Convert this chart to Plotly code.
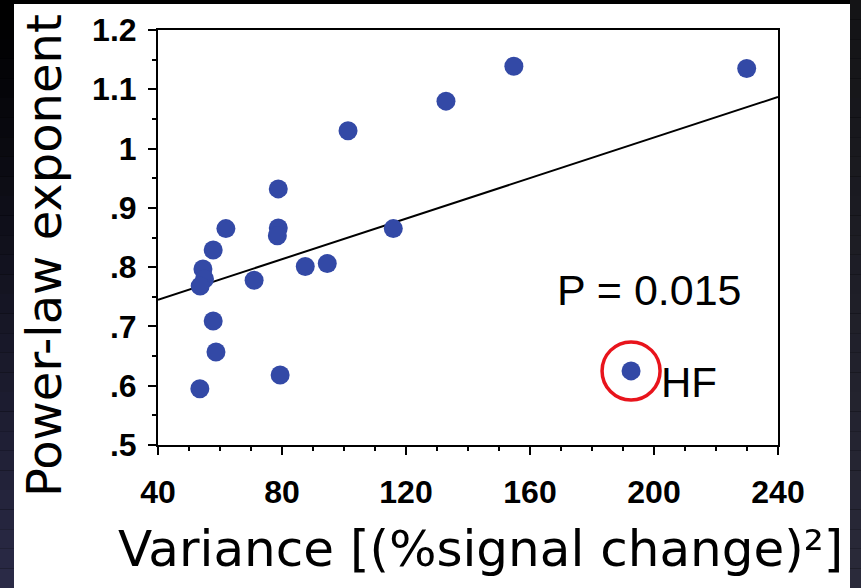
import plotly.graph_objects as go

# ---- data ----
variance = [154.8, 229.9, 132.9, 101.3, 78.8, 78.8, 78.5, 61.9, 57.8,
            54.5, 55.0, 53.6, 71.0, 87.5, 94.6, 115.9, 57.8, 58.7, 79.4, 53.5]
exponent = [1.139, 1.135, 1.080, 1.030, 0.932, 0.866, 0.853, 0.865, 0.829,
            0.797, 0.780, 0.768, 0.778, 0.801, 0.806, 0.865, 0.709, 0.657, 0.618, 0.595]
hf_x = [192.6]
hf_y = [0.625]
fit_x = [40, 240]
fit_y = [0.745, 1.087]
x_ticks = [40, 80, 120, 160, 200, 240]
y_ticks = [0.5, 0.6, 0.7, 0.8, 0.9, 1.0, 1.1, 1.2]
y_ticktext = [".5", ".6", ".7", ".8", ".9", "1", "1.1", "1.2"]
p_text = "P = 0.015"
hf_label = "HF"

# ---- geometry helpers (pixel -> paper) ----
W, H = 861, 588
L, R, T, B = 158, 778, 30, 445


def px(x):
    return (x - L) / (R - L)


def py(y):
    return (B - y) / (B - T)


fig = go.Figure()

fig.add_trace(go.Scatter(x=fit_x, y=fit_y, mode="lines",
                         line=dict(color="black", width=2), hoverinfo="skip"))
fig.add_trace(go.Scatter(x=variance + hf_x, y=exponent + hf_y, mode="markers",
                         marker=dict(color="#3349a6", size=19, line=dict(width=0))))
fig.add_trace(go.Scatter(x=hf_x, y=hf_y, mode="markers",
                         marker=dict(symbol="circle-open", size=58, color="#e8141c",
                                     line=dict(width=3.5, color="#e8141c"))))

# background: dark frame with gradient strips + white card
shapes = []
n = 30
for i in range(n):
    f = i / (n - 1)
    y0 = i * H / n
    y1 = (i + 1) * H / n
    cl = (int(0 + 42 * f), int(0 + 42 * f), int(0 + 70 * f))
    cr = (int(20 + 22 * f), int(20 + 22 * f), int(22 + 36 * f))
    shapes.append(dict(type="rect", xref="paper", yref="paper", layer="below",
                       x0=px(0), x1=px(14), y0=py(y1), y1=py(y0),
                       fillcolor="rgb(%d,%d,%d)" % cl, line=dict(width=0)))
    shapes.append(dict(type="rect", xref="paper", yref="paper", layer="below",
                       x0=px(850), x1=px(W), y0=py(y1), y1=py(y0),
                       fillcolor="rgb(%d,%d,%d)" % cr, line=dict(width=0)))
shapes.append(dict(type="rect", xref="paper", yref="paper", layer="below",
                   x0=px(14), x1=px(850), y0=py(H), y1=py(4),
                   fillcolor="white", line=dict(width=0)))

annotations = [
    dict(text=p_text, x=168.0, y=0.762, xref="x", yref="y", xanchor="left",
         yanchor="middle", showarrow=False,
         font=dict(family="Liberation Sans", size=43, color="black")),
    dict(text=hf_label, x=201.6, y=0.605, xref="x", yref="y", xanchor="left",
         yanchor="middle", showarrow=False,
         font=dict(family="Liberation Sans", size=42, color="black")),
    dict(text="Variance [(%signal change)²]", x=px(480), y=py(549), xref="paper",
         yref="paper", xanchor="center", yanchor="middle", showarrow=False,
         font=dict(family="DejaVu Sans", size=50, color="black")),
    dict(text="Power-law exponent", x=px(44), y=py(256), xref="paper",
         yref="paper", xanchor="center", yanchor="middle", showarrow=False,
         textangle=-90,
         font=dict(family="DejaVu Sans", size=48, color="black")),
]

tickfont = dict(family="Liberation Sans", size=32, color="black", weight="bold")

fig.update_layout(
    width=W, height=H,
    margin=dict(l=L, r=W - R, t=T, b=H - B, pad=0),
    paper_bgcolor="black", plot_bgcolor="white",
    showlegend=False,
    shapes=shapes, annotations=annotations,
    xaxis=dict(range=[40, 240], tickvals=x_ticks, ticks="outside", ticklen=8,
               tickwidth=2, tickcolor="black", showgrid=False, zeroline=False,
               showline=True, linecolor="black", linewidth=2, mirror=True,
               tickfont=tickfont, ticklabelstandoff=10,
               minor=dict(dtick=10, ticks="outside", ticklen=4, tickwidth=2,
                          tickcolor="black", showgrid=False)),
    yaxis=dict(range=[0.5, 1.2], tickvals=y_ticks, ticktext=y_ticktext,
               ticks="outside", ticklen=8, tickwidth=2, tickcolor="black",
               showgrid=False, zeroline=False, showline=True, linecolor="black",
               linewidth=2, mirror=True, tickfont=tickfont, ticklabelstandoff=5,
               minor=dict(dtick=0.05, ticks="outside", ticklen=4, tickwidth=2,
                          tickcolor="black", showgrid=False)),
)

fig.write_html("out.html")
